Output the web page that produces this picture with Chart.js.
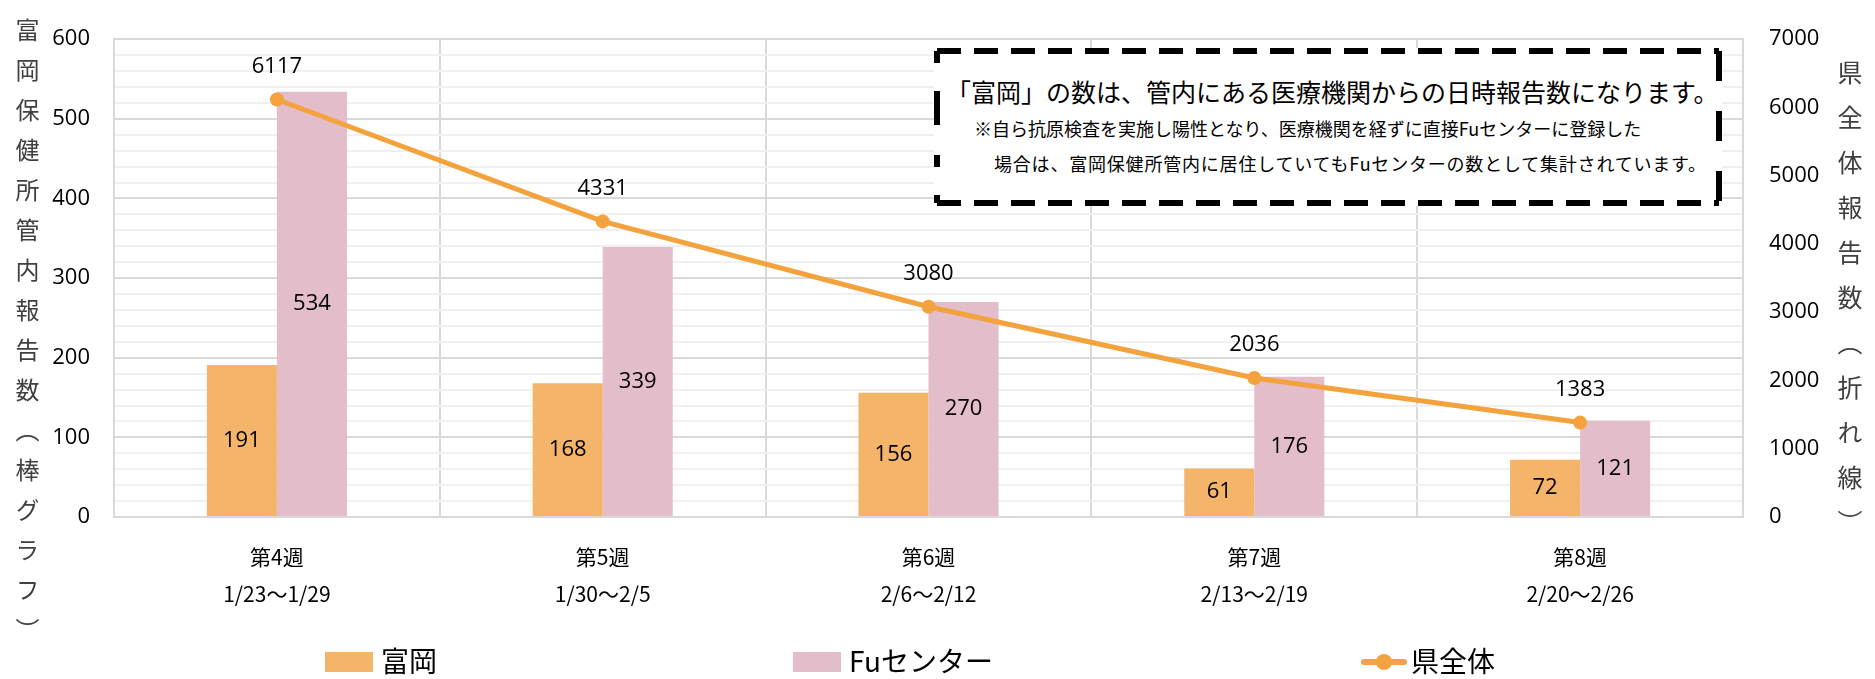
<!DOCTYPE html>
<html lang="ja">
<head>
<meta charset="utf-8">
<script src="https://cdn.jsdelivr.net/npm/chart.js"></script>
<style>
  html, body { margin: 0; padding: 0; background: #fff; }
  #wrap { position: relative; width: 1875px; height: 679px; overflow: hidden; font-family: "Noto Sans CJK JP", sans-serif; }
  #wrap canvas { position: absolute; left: 0; top: 0; }
  .vtitle { position: absolute; writing-mode: vertical-rl; color: #404040; white-space: nowrap; }
  #note { position: absolute; left: 934px; top: 48px; width: 788px; height: 158px; background: #fff; }
  #note svg { position: absolute; left: 0; top: 0; }
  #note p { position: absolute; margin: 0; white-space: nowrap; color: #000; }
  #legend { position: absolute; left: 0; top: 640px; width: 1875px; height: 40px; font-size: 28px; color: #000; }
  #legend span { position: absolute; top: 0; line-height: 40px; }
  #legend i { position: absolute; display: block; }
</style>
</head>
<body>
<div id="wrap">
  <canvas id="chart"></canvas>
  <div class="vtitle" style="left:10px; top:18px; font-size:24px; letter-spacing:16px;">富岡保健所管内報告数（棒グラフ）</div>
  <div class="vtitle" style="left:1832px; top:60px; font-size:25px; letter-spacing:20px;">県全体報告数（折れ線）</div>
  <div id="note">
    <svg width="788" height="158">
      <line x1="3" y1="3" x2="785" y2="3" stroke="#000" stroke-width="6" stroke-dasharray="24 13"/>
      <line x1="3" y1="155" x2="785" y2="155" stroke="#000" stroke-width="6" stroke-dasharray="24 13"/>
      <line x1="3" y1="3" x2="3" y2="155" stroke="#000" stroke-width="6" stroke-dasharray="12 28 34 30"/>
      <line x1="785" y1="3" x2="785" y2="155" stroke="#000" stroke-width="6" stroke-dasharray="30 30"/>
    </svg>
    <p style="left:12px; top:25px; font-size:25px;">「富岡」の数は、管内にある医療機関からの日時報告数になります。</p>
    <p style="left:40px; top:67px; font-size:18px;">※自ら抗原検査を実施し陽性となり、医療機関を経ずに直接Fuセンターに登録した</p>
    <p style="left:60px; top:102px; font-size:18px; letter-spacing:0.8px;">場合は、富岡保健所管内に居住していてもFuセンターの数として集計されています。</p>
  </div>
  <div id="legend">
    <i style="left:325px; top:12px; width:48px; height:20px; background:#F4B46A;"></i>
    <span style="left:381px;">富岡</span>
    <i style="left:793px; top:12px; width:48px; height:20px; background:#E3BDCA;"></i>
    <span style="left:849px;">Fuセンター</span>
    <i style="left:1361px; top:19px; width:46px; height:6px; background:#F3A23D; border-radius:3px;"></i>
    <i style="left:1376px; top:14px; width:16px; height:16px; background:#F3A23D; border-radius:8px;"></i>
    <span style="left:1411px;">県全体</span>
  </div>
</div>
<script>
// week categories (two-line x labels)
const weeks = ["第4週", "第5週", "第6週", "第7週", "第8週"]
const periods = ["1/23～1/29", "1/30～2/5", "2/6～2/12", "2/13～2/19", "2/20～2/26"]

// series
const tomioka = [191, 168, 156, 61, 72]
const fuCenter = [534, 339, 270, 176, 121]
const prefTotal = [6117, 4331, 3080, 2036, 1383]

// axis ranges
const leftMax = 600, leftStep = 100, leftMinor = 20
const rightMax = 7000, rightStep = 1000

const numFont = { family: "'Open Sans', sans-serif", size: 22 }

// draws the value labels: middle of each bar, above each line point
const valueLabels = {
  id: "valueLabels",
  afterDatasetsDraw(chart) {
    const ctx = chart.ctx
    ctx.save()
    ctx.font = `${numFont.size}px ${numFont.family}`
    ctx.fillStyle = "#000"
    ctx.textAlign = "center"
    ctx.textBaseline = "middle"
    chart.data.datasets.forEach((ds, i) => {
      const meta = chart.getDatasetMeta(i)
      meta.data.forEach((el, j) => {
        const v = ds.data[j]
        if (meta.type === "bar") ctx.fillText(String(v), el.x, (el.y + el.base) / 2)
        else ctx.fillText(String(v), el.x, el.y - 33)
      })
    })
    ctx.restore()
  },
}

const canvas = document.getElementById("chart")
canvas.width = 1875
canvas.height = 679

new Chart(canvas, {
  type: "bar",
  data: {
    labels: weeks.map((w, i) => [w, periods[i]]),
    datasets: [
      { label: "富岡", data: tomioka, backgroundColor: "#F4B46A", yAxisID: "y", order: 2 },
      { label: "Fuセンター", data: fuCenter, backgroundColor: "#E3BDCA", yAxisID: "y", order: 2 },
      {
        type: "line", label: "県全体", data: prefTotal, yAxisID: "y2", order: 1,
        borderColor: "#F3A23D", backgroundColor: "#F3A23D", borderWidth: 5,
        pointRadius: 7, pointBackgroundColor: "#F3A23D", pointBorderWidth: 0, tension: 0,
      },
    ],
  },
  options: {
    responsive: false,
    animation: false,
    layout: { padding: { top: 36, left: 0, right: 0, bottom: 0 } },
    datasets: { bar: { categoryPercentage: 0.43, barPercentage: 1.0 } },
    plugins: { legend: { display: false }, tooltip: { enabled: false } },
    scales: {
      x: {
        grid: { color: "#d9d9d9", lineWidth: 2, drawTicks: false, offset: true },
        border: { color: "#d9d9d9", width: 2 },
        ticks: { color: "#000", padding: 22, font: { family: "'Noto Sans CJK JP', sans-serif", size: 21, lineHeight: 1.75 } },
        afterFit: s => { s.height = 679 - 517 },
      },
      y: {
        position: "left",
        min: 0, max: leftMax,
        ticks: {
          stepSize: leftMinor, autoSkip: false, color: "#000", padding: 24, font: numFont,
          callback: v => (v % leftStep === 0 ? String(v) : ""),
        },
        grid: {
          drawTicks: false,
          color: c => (c.tick.value % leftStep === 0 ? "#d9d9d9" : "#f0f0f0"),
          lineWidth: 2,
        },
        border: { color: "#d9d9d9", width: 2 },
        afterFit: s => { s.width = 114 },
      },
      y2: {
        position: "right",
        min: 0, max: rightMax,
        ticks: { stepSize: rightStep, color: "#000", padding: 26, font: numFont, callback: v => String(v) },
        grid: { drawOnChartArea: false, drawTicks: false },
        border: { color: "#d9d9d9", width: 2 },
        afterFit: s => { s.width = 1875 - 1743 },
      },
    },
  },
  plugins: [valueLabels],
})
</script>
</body>
</html>
